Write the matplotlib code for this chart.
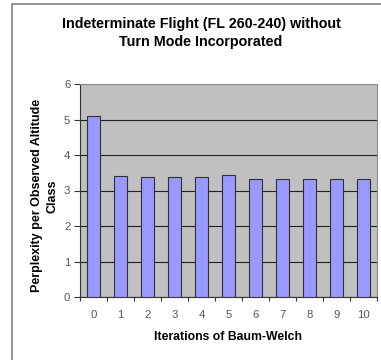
import matplotlib
matplotlib.use("Agg")
from matplotlib import pyplot as plt
from matplotlib.patches import Rectangle

iterations = [0, 1, 2, 3, 4, 5, 6, 7, 8, 9, 10]
perplexity = [5.10, 3.41, 3.37, 3.37, 3.37, 3.44, 3.33, 3.33, 3.31, 3.31, 3.31]
y_ticks = [0, 1, 2, 3, 4, 5, 6]

plt.rcParams['font.family'] = ['Liberation Sans', 'DejaVu Sans']

fig = plt.figure(figsize=(3.81, 3.6), dpi=100)
fig.patch.set_facecolor('white')

# chart border (only top and left visible, the rest is cropped)
fig.patches.append(Rectangle((12 / 381, -0.1), 1.2, 1 - 4 / 360 + 0.1,
                             transform=fig.transFigure, fill=False,
                             edgecolor='#808080', linewidth=1.2))

ax = fig.add_axes([80 / 381, 1 - 297 / 360, 297 / 381, 213 / 360])
ax.set_facecolor('#c0c0c0')

ax.bar(iterations, perplexity, width=0.45, color='#9999ff',
       edgecolor='#303030', linewidth=0.8, zorder=3)

ax.set_xlim(-0.5, len(iterations) - 0.5)
ax.set_ylim(0, 6)
ax.set_yticks(y_ticks)
ax.yaxis.grid(True, color='#202020', linewidth=0.8, zorder=1)

ax.set_xticks(iterations)
ax.set_xticks([i - 0.5 for i in range(len(iterations) + 1)], minor=True)
ax.tick_params(axis='x', which='major', length=0, pad=9, labelsize=8.2,
               labelcolor='#555555')
ax.tick_params(axis='x', which='minor', length=3, width=0.8, color='#333333')
ax.tick_params(axis='y', length=4, width=0.8, color='#333333', pad=3,
               labelsize=8.2, labelcolor='#555555')

for side in ['top', 'right']:
    ax.spines[side].set_color('#8c8c8c')
for side in ['left', 'bottom']:
    ax.spines[side].set_color('#333333')

ax.set_xlabel('Iterations of Baum-Welch', fontsize=8.8, fontweight='bold',
              labelpad=8)
ax.set_ylabel('Perplexity per Observed Altitude\nClass', fontsize=9,
              fontweight='bold', labelpad=4, linespacing=1.35)
ax.yaxis.label.set_y(0.475)

fig.text(201 / 381, 1 - 33 / 360,
         'Indeterminate Flight (FL 260-240) without\nTurn Mode Incorporated',
         ha='center', va='center', fontsize=10.3, fontweight='bold',
         linespacing=1.35)

fig.savefig('out.png', dpi=100)
